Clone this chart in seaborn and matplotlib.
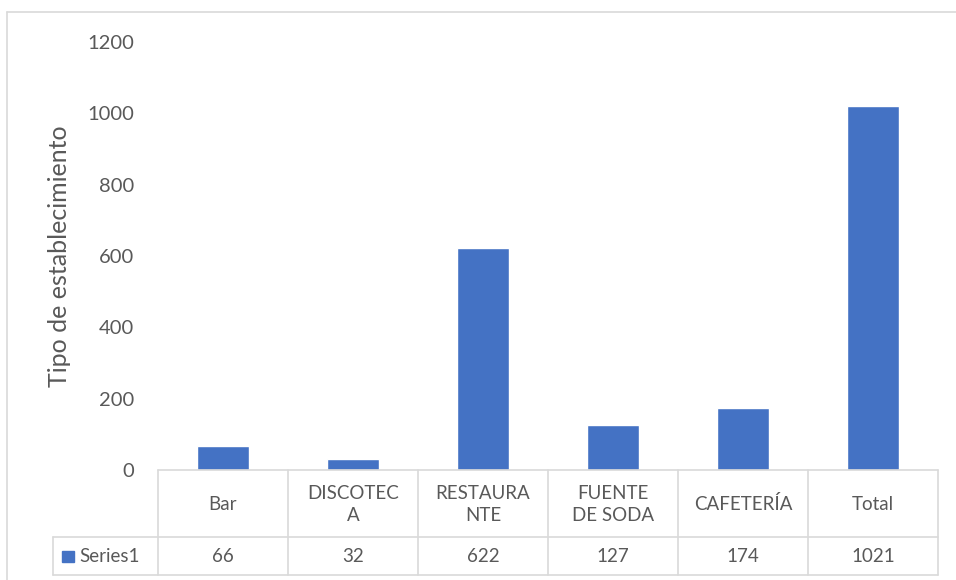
import matplotlib.pyplot as plt
import seaborn as sns
from matplotlib.lines import Line2D
from matplotlib.patches import Rectangle

categories = ['Bar', 'DISCOTECA', 'RESTAURANTE', 'FUENTE DE SODA', 'CAFETERÍA', 'Total']
header_labels = ['Bar', 'DISCOTEC\nA', 'RESTAURA\nNTE', 'FUENTE\nDE SODA', 'CAFETERÍA', 'Total']
values = [66, 32, 622, 127, 174, 1021]
series_name = 'Series1'
y_label = 'Tipo de establecimiento'
y_ticks = [0, 200, 400, 600, 800, 1000, 1200]

W, H = 956, 580
BLUE = '#4472C4'
TXT = '#595959'
GRID = '#d9d9d9'

sns.set_style('white')
plt.rcParams['font.family'] = ['Lato', 'DejaVu Sans']


def fx(px):
    return px / W


def fy(py):
    return 1 - py / H


fig = plt.figure(figsize=(W / 100, H / 100), dpi=100)

left, right, top, bottom = 158, 938, 42, 470
ax = fig.add_axes([fx(left), fy(bottom), fx(right) - fx(left), fy(top) - fy(bottom)])
sns.barplot(x=categories, y=values, color=BLUE, saturation=1, width=0.4, ax=ax)
ax.set_ylim(0, 1200)
ax.set_xlim(-0.5, len(categories) - 0.5)
ax.set_yticks(y_ticks)
ax.set_yticklabels([str(t) for t in y_ticks], fontsize=14.5, color=TXT)
ax.set_xticks([])
ax.tick_params(axis='y', length=0, pad=17)
ax.set_xlabel('')
ax.set_ylabel(y_label, fontsize=18, color=TXT, va='center')
ax.yaxis.set_label_coords((60 - left) / (right - left), 0.5)
for s in ax.spines.values():
    s.set_visible(False)

# data table below the plot
row1, row2 = 537, 575
cw = (right - left) / len(categories)
lines = [
    ([left, right], [bottom, bottom]),
    ([53, right], [row1, row1]),
    ([53, right], [row2, row2]),
    ([53, 53], [row1, row2]),
]
for i in range(len(categories) + 1):
    x = left + i * cw
    lines.append(([x, x], [bottom, row2]))
for xs, ys in lines:
    fig.add_artist(Line2D([fx(v) for v in xs], [fy(v) for v in ys], color=GRID, lw=1.2))

for i, (lab, v) in enumerate(zip(header_labels, values)):
    cx = left + (i + 0.5) * cw
    fig.text(fx(cx), fy((bottom + row1) / 2 + 1), lab, ha='center', va='center',
             fontsize=13.5, color=TXT, linespacing=1.35)
    fig.text(fx(cx), fy((row1 + row2) / 2), str(v), ha='center', va='center',
             fontsize=13.5, color=TXT)

fig.add_artist(Rectangle((fx(62), fy(562)), fx(12), fy(551) - fy(562), color=BLUE))
fig.text(fx(79), fy((row1 + row2) / 2), series_name, ha='left', va='center',
         fontsize=13.5, color=TXT)

# chart border
fig.add_artist(Line2D([fx(7), fx(7)], [fy(12), 0], color=GRID, lw=1.2))
fig.add_artist(Line2D([fx(7), 1], [fy(12), fy(12)], color=GRID, lw=1.2))

plt.savefig('out.png', dpi=100)
